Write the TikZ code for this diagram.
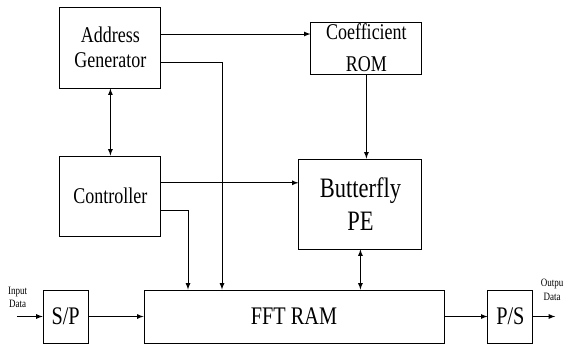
\documentclass[tikz,border=0pt]{standalone}
\usepackage{fontspec}
\setmainfont{Liberation Serif}[FakeStretch=0.8]
\usetikzlibrary{arrows, positioning}
\tikzset{
    block/.style = {rectangle, draw=black, line width=0.6pt, text centered, align=center, inner sep=0pt},
    midfont/.style = {font=\fontsize{16}{17.5}\selectfont},
    bigfont/.style = {font=\fontsize{20}{23.5}\selectfont},
    iofont/.style = {font=\fontsize{18}{20}\selectfont},
    arrow/.style = {line width=0.6pt, -latex},
    biarrow/.style = {line width=0.6pt, latex-latex},
    tag/.style = {font=\fontsize{8}{9.5}\selectfont, align=center, inner sep=0pt}
}
\begin{document}
\begin{tikzpicture}
    \useasboundingbox (0,0) rectangle (14.15,8.65);

    \node[block, midfont, minimum width=2.525cm, minimum height=2.025cm] (addr) at (2.76,7.46) {Address\\Generator};
    \node[block, font=\fontsize{16}{22.5}\selectfont, minimum width=2.775cm, minimum height=1.3cm] (coef) at (9.16,7.45) {Coefficient\\ROM};
    \node[block, midfont, minimum width=2.525cm, minimum height=2cm] (ctrl) at (2.76,3.75) {Controller};
    \node[block, bigfont, minimum width=3.075cm, minimum height=2.25cm] (pe) at (9.01,3.55) {Butterfly\\PE};
    \node[block, iofont, minimum width=1.125cm, minimum height=1.325cm] (sp) at (1.64,0.7375) {S/P};
    \node[block, iofont, minimum width=7.5cm, minimum height=1.325cm] (ram) at (7.35,0.7375) {FFT RAM};
    \node[block, iofont, minimum width=1.125cm, minimum height=1.325cm] (ps) at (12.76,0.7375) {P/S};

    \node[tag] (inlbl) at (0.44,1.22) {Input\\Data};
    \node[tag] (outlbl) at (13.8,1.4) {Outpu\\Data};
    \coordinate (in) at (0.42,0.7375);
    \coordinate (out) at (13.88,0.7375);

    % address generator
    \draw[arrow] ([yshift=0.34cm]addr.east) -- ([yshift=0.34cm]addr.east -| coef.west);
    \draw[arrow] ([yshift=-0.36cm]addr.east) -| ([xshift=-1.8cm]ram.north);
    \draw[biarrow] (addr) -- (ctrl);

    % controller
    \draw[arrow] ([yshift=0.33cm]ctrl.east) -- ([yshift=0.33cm]ctrl.east -| pe.west);
    \draw[arrow] ([yshift=-0.35cm]ctrl.east) -| ([xshift=-2.65cm]ram.north);

    \draw[arrow] (coef.south) -- (coef.south |- pe.north);
    \draw[biarrow] (pe.south) -- (pe.south |- ram.north);

    % data path
    \draw[arrow] (in) -- (sp);
    \draw[arrow] (sp) -- (ram);
    \draw[arrow] (ram) -- (ps);
    \draw[arrow] (ps) -- (out);
\end{tikzpicture}
\end{document}
